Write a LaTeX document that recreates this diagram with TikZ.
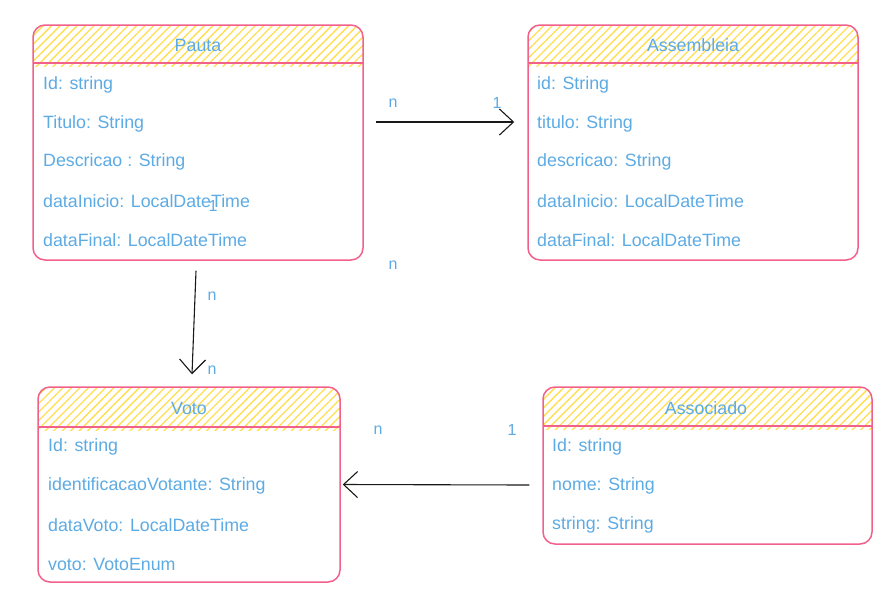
\documentclass[tikz,border=0pt]{standalone}
\usepackage{fontspec}
\setmainfont{Liberation Sans}
\usetikzlibrary{arrows.meta,patterns.meta}

\definecolor{fieldblue}{RGB}{93,171,228}
\definecolor{boxpink}{RGB}{242,96,140}
\definecolor{hatchyellow}{RGB}{255,222,80}
\definecolor{linkgray}{RGB}{25,25,25}

\tikzset{
  classbox/.style={draw=boxpink, line width=1.5pt, rounded corners=12pt,
    rectangle, inner sep=0pt},
  hatch/.style={pattern={Lines[angle=45,distance=6pt,line width=1.3pt]},
    pattern color=hatchyellow},
  divider/.style={draw=boxpink, line width=1.2pt},
  field/.style={anchor=west, text=fieldblue, inner sep=0pt,
    font=\fontsize{17.8}{20}\selectfont},
  title/.style={text=fieldblue, inner sep=0pt,
    font=\fontsize{17.8}{20}\selectfont},
  mult/.style={text=fieldblue, inner sep=0pt,
    font=\fontsize{16}{18}\selectfont},
  assoc/.style={draw=linkgray, line width=1.1pt,
    -{Straight Barb[length=14pt,width=26pt,line width=1.1pt]}},
}

% a class box: name, left, top, right, bottom, header bottom
\newcommand{\classframe}[6]{%
  \begin{scope}
    \clip[rounded corners=12pt] (#2,#3) rectangle (#4,#5);
    \fill[hatch] (#2,#3) rectangle (#4,#6+3);
  \end{scope}
  \node[classbox, minimum width=#4-#2, minimum height=#5-#3]
    (#1) at ({(#2+#4)/2},{(#3+#5)/2}) {};
  \draw[divider] (#2,#6) -- (#4,#6);
}

\begin{document}
\begin{tikzpicture}[x=1pt,y=-1pt]
\useasboundingbox (0,0) rectangle (896,595);
\fill[white] (0,0) rectangle (896,595);

% Pauta
\classframe{pauta}{33}{25}{363}{260}{63}
\node[title] (pautaT) at (198,45) {Pauta};
\node[field] (p1) at (43,85)  {Id: string};
\node[field] (p2) at (43,124) {Titulo: String};
\node[field] (p3) at (43,162) {Descricao : String};
\node[field] (p4) at (43,201) {dataInicio: LocalDateTime};
\node[field] (p5) at (43,240) {dataFinal: LocalDateTime};

% Assembleia
\classframe{assembleia}{528}{25}{858}{260}{63}
\node[title] (assemT) at (693,45) {Assembleia};
\node[field] (a1) at (537,85)  {id: String};
\node[field] (a2) at (537,124) {titulo: String};
\node[field] (a3) at (537,162) {descricao: String};
\node[field] (a4) at (537,201) {dataInicio: LocalDateTime};
\node[field] (a5) at (537,240) {dataFinal: LocalDateTime};

% Voto
\classframe{voto}{38}{387}{340}{582}{427}
\node[title] (votoT) at (189,408) {Voto};
\node[field] (v1) at (48,447) {Id: string};
\node[field] (v2) at (48,486) {identificacaoVotante: String};
\node[field] (v3) at (48,525) {dataVoto: LocalDateTime};
\node[field] (v4) at (48,564) {voto: VotoEnum};

% Associado
\classframe{associado}{543}{387}{872}{544}{426}
\node[title] (assocT) at (706,408) {Associado};
\node[field] (s1) at (552,447) {Id: string};
\node[field] (s2) at (552,486) {nome: String};
\node[field] (s3) at (552,525) {string: String};

% associations
\draw[assoc] ([xshift=12pt,yshift=20.5pt]pauta.east)
  -- ([xshift=-13pt,yshift=20.5pt]assembleia.west);
\draw[assoc] ([xshift=-2pt,yshift=-10pt]pauta.south)
  -- ([xshift=3pt,yshift=12pt]voto.north);
\draw[assoc] ([xshift=-13pt,yshift=-19.5pt]associado.west)
  -- ([xshift=2pt]voto.east);

% multiplicities
\node[mult] (m1) at (393,103) {n};
\node[mult] (m2) at (497,103) {1};
\node[mult] (m3) at (393,265) {n};
\node[mult] (m4) at (213,206) {1};
\node[mult] (m5) at (212,296) {n};
\node[mult] (m6) at (212,370) {n};
\node[mult] (m7) at (378,430) {n};
\node[mult] (m8) at (512,430) {1};
\end{tikzpicture}
\end{document}
